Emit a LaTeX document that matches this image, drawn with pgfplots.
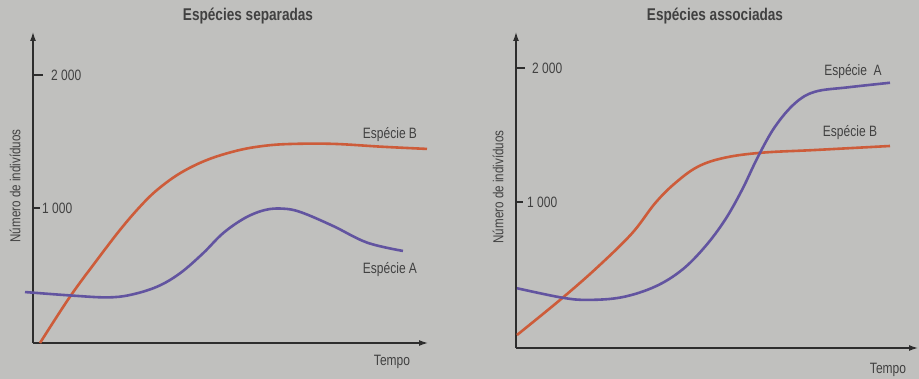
\documentclass[border=0pt]{standalone}
\usepackage{fontspec}
\setmainfont{Liberation Sans}[FakeStretch=0.8]
\usepackage{pgfplots}
\pgfplotsset{compat=1.18}
\usetikzlibrary{arrows.meta}
\definecolor{bg}{RGB}{192,192,190}
\definecolor{orangeB}{RGB}{205,92,58}
\definecolor{purpleA}{RGB}{98,84,160}
\definecolor{axc}{RGB}{45,45,45}
\definecolor{txt}{RGB}{65,65,65}
\pgfplotsset{panel/.style={
  scale only axis, clip=false,
  axis x line=bottom, axis y line=left,
  axis line style={line width=1.3pt, color=axc},
  x axis line style={-{Latex[length=9pt,width=6pt]}},
  y axis line style={-{Latex[length=9pt,width=6pt]}},
  xtick=\empty,
  ytick={1000}, yticklabels={1 000},
  extra y ticks={2000}, extra y tick labels={2 000},
  tick align=inside,
  major tick length=7pt,
  tick style={line width=1.1pt, color=axc},
  yticklabel style={anchor=west, inner sep=0pt, font=\fontsize{15}{15}\selectfont, text=txt},
  every axis plot/.append style={line width=2.6pt, smooth, tension=0.6, no markers},
}}
\begin{document}
\begin{tikzpicture}[x=1pt,y=1pt]
\fill[bg] (0,0) rectangle (919,379);
\path[use as bounding box] (0,0) rectangle (919,379);
\begin{axis}[panel, at={(33pt,36pt)}, anchor=south west,
  width=395pt, height=311pt, xmin=0, xmax=395, ymin=-15, ymax=2323,
  yticklabel style={xshift=9pt},
  extra tick style={major tick length=10pt, yticklabel style={xshift=9pt}}]
\addplot[orangeB] coordinates {(7,-15) (37,333) (64,609) (87,835) (107,1010) (124,1135) (147,1261) (174,1361) (204,1431) (230,1466) (257,1481) (300,1482) (350,1460) (394,1444)};
\addplot[purpleA] coordinates {(-8,368) (40,341) (74,328) (97,346) (124,408) (147,509) (170,659) (190,810) (212,925) (232,985) (250,995) (268,968) (300,865) (334,740) (370,677)};
\end{axis}
\begin{axis}[panel, at={(516pt,31pt)}, anchor=south west,
  width=402pt, height=316pt, xmin=0, xmax=402, ymin=-90, ymax=2269,
  yticklabel style={xshift=11pt},
  extra tick style={major tick length=9pt, yticklabel style={xshift=5pt}}]
\addplot[orangeB] coordinates {(1,7) (46,281) (82,517) (116,766) (139,990) (159,1140) (182,1264) (209,1331) (246,1368) (299,1388) (374,1418)};
\addplot[purpleA] coordinates {(1,356) (46,286) (72,269) (106,289) (139,368) (166,493) (189,666) (209,866) (226,1090) (242,1338) (259,1562) (279,1737) (299,1823) (332,1856) (374,1890)};
\end{axis}
\begin{scope}[text=txt]
\node[font=\bfseries\fontsize{17}{17}\selectfont] at (248,363) {Espécies separadas};
\node[font=\bfseries\fontsize{17}{17}\selectfont] at (715,363) {Espécies associadas};
\node[font=\fontsize{14.5}{14.5}\selectfont, rotate=90] at (15,193) {Número de indivíduos};
\node[font=\fontsize{14.5}{14.5}\selectfont, rotate=90] at (498,192) {Número de indivíduos};
\node[font=\fontsize{15}{15}\selectfont] at (390,244) {Espécie B};
\node[font=\fontsize{15}{15}\selectfont] at (390,109) {Espécie A};
\node[font=\fontsize{15}{15}\selectfont] at (392,17) {Tempo};
\node[font=\fontsize{15}{15}\selectfont] at (853,307) {Espécie\ \ A};
\node[font=\fontsize{15}{15}\selectfont] at (850,246) {Espécie B};
\node[font=\fontsize{15}{15}\selectfont] at (888,9) {Tempo};
\end{scope}
\end{tikzpicture}
\end{document}
